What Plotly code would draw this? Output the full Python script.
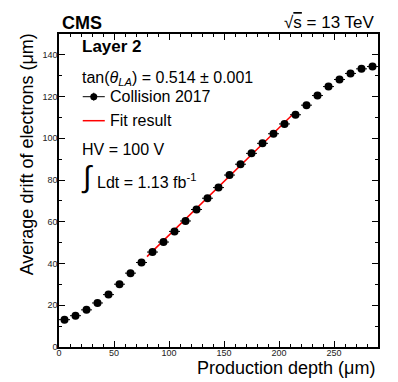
import plotly.graph_objects as go

# bin centres (production depth, um) and measured average drift (um)
depth = [5, 15, 25, 35, 45, 55, 65, 75, 85, 95, 105, 115, 125, 135, 145,
         155, 165, 175, 185, 195, 205, 215, 225, 235, 245, 255, 265, 275, 285]
drift = [13.1, 15.0, 17.8, 21.1, 25.1, 30.1, 35.4, 40.5, 45.5, 50.3, 55.4,
         60.4, 65.9, 71.3, 76.4, 82.4, 87.6, 92.8, 97.6, 102.2, 106.9, 111.3,
         115.9, 120.5, 124.8, 128.2, 131.1, 133.3, 134.4]
drift_err = [0.3, 0.3, 0.3, 0.3, 0.3, 0.3, 0.3, 0.3, 0.3, 0.3, 0.3, 0.3, 0.3,
             0.3, 0.3, 0.3, 0.3, 0.3, 0.3, 0.3, 0.3, 0.3, 0.3, 0.3, 0.3, 0.3,
             0.3, 0.3, 0.3]
bin_half = 5

# linear fit end points
fit_depth = [80, 215]
fit_drift = [43.3, 112.7]

FONT = "Liberation Sans, Arial, sans-serif"

# plot frame in pixels, used to place the text boxes
L, R, T, B = 59.3, 377.7, 34.3, 347.3
def px(x):
    return (x - L) / (R - L)
def py(y):
    return (B - y) / (B - T)

fig = go.Figure()

fig.add_trace(go.Scatter(
    x=fit_depth, y=fit_drift, mode="lines",
    line=dict(color="#ff0000", width=1.5),
    name="Fit result", showlegend=False,
))
fig.add_trace(go.Scatter(
    x=depth, y=drift, mode="markers",
    marker=dict(color="black", size=8),
    error_x=dict(type="constant", value=bin_half, color="black", thickness=1, width=0),
    error_y=dict(type="data", array=drift_err, color="black", thickness=1, width=0),
    name="Collision 2017", showlegend=False,
))

def ann(x, y, text, size=16, xanchor="left", **kw):
    return dict(x=px(x), y=py(y), xref="paper", yref="paper", text=text,
                showarrow=False, xanchor=xanchor, yanchor=kw.pop("yanchor", "middle"),
                font=dict(family=FONT, size=size, color="black"), **kw)

annotations = [
    ann(60, 23, "<b>CMS</b>", size=18),
    ann(376, 23, "√<span style='text-decoration:overline'>s</span> = 13 TeV", size=17, xanchor="right"),
    ann(80, 47, "<b>Layer 2</b>", size=17),
    ann(80, 79, "tan(<i>θ</i><sub><i>LA</i></sub>) = 0.514 ± 0.001"),
    ann(108, 97, "Collision 2017"),
    ann(108, 121, "Fit result"),
    ann(80, 150, "HV = 100 V"),
    ann(79, 177, "∫", size=30),
    ann(95, 181, "Ldt = 1.13 fb<sup>-1</sup>"),
    ann(377, 368, "Production depth (μm)", size=18, xanchor="right"),
    ann(27, 32, "Average drift of electrons (μm)", size=18, xanchor="center",
        yanchor="top", textangle=-90),
]

shapes = [
    # legend glyphs
    dict(type="line", xref="paper", yref="paper", x0=px(83), x1=px(105), y0=py(97), y1=py(97),
         line=dict(color="black", width=1)),
    dict(type="line", xref="paper", yref="paper", x0=px(94), x1=px(94), y0=py(93), y1=py(101),
         line=dict(color="black", width=1)),
    dict(type="circle", xref="paper", yref="paper", x0=px(90.5), x1=px(97.5), y0=py(100.5), y1=py(93.5),
         fillcolor="black", line=dict(color="black", width=0)),
    dict(type="line", xref="paper", yref="paper", x0=px(83), x1=px(105), y0=py(121), y1=py(121),
         line=dict(color="#ff0000", width=1.5)),
]

axis_common = dict(
    showgrid=False, zeroline=False, showline=True, linecolor="black", linewidth=1.5,
    mirror="ticks", ticks="inside", ticklen=6, tickwidth=1, tickcolor="black",
    tickfont=dict(family=FONT, size=9, color="#222"),
)

fig.update_layout(
    width=398, height=382,
    margin=dict(l=59, r=20, t=34, b=35),
    plot_bgcolor="white", paper_bgcolor="white",
    showlegend=False,
    xaxis=dict(range=[0, 290], dtick=50, tick0=0, ticklabelstandoff=-4,
               minor=dict(dtick=10, ticks="inside", ticklen=3, tickcolor="black"),
               **axis_common),
    yaxis=dict(range=[0, 150], dtick=20, tick0=0, ticklabelstandoff=-2,
               minor=dict(dtick=10, ticks="inside", ticklen=3, tickcolor="black"),
               **axis_common),
    annotations=annotations,
    shapes=shapes,
)

# page body has a default 8px margin; drop it so the figure fills the window
fig.write_html("out.html", config={"displayModeBar": False},
               post_script="document.body.style.margin='0';")
